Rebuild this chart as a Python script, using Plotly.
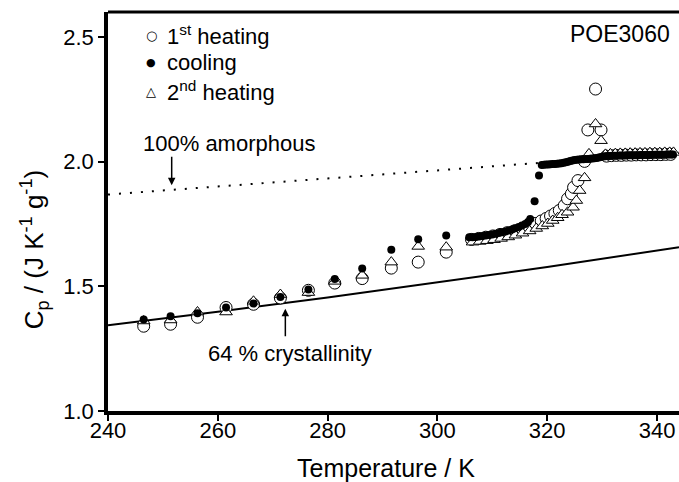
import plotly.graph_objects as go

# ---------------- data ----------------
HEAT1_T = [246.5, 251.4, 256.3, 261.5, 266.5, 271.4, 276.5, 281.3, 286.3, 291.6, 296.5, 301.6,
           306.2, 307.5, 308.8, 310.1, 311.4, 312.7, 314.0, 315.3, 316.6, 317.8, 318.9, 319.8,
           320.6, 321.4, 322.2, 323.1, 323.7, 324.4, 324.8, 325.6, 326.8, 327.4, 328.8, 329.8,
           330.8, 331.7, 332.6, 333.5, 334.4, 335.3, 336.2, 337.1, 338.0, 338.9, 339.8, 340.7,
           341.6, 342.5]
HEAT1_CP = [1.340, 1.348, 1.376, 1.415, 1.428, 1.453, 1.484, 1.513, 1.531, 1.573, 1.597, 1.637,
            1.688, 1.692, 1.697, 1.702, 1.708, 1.715, 1.722, 1.730, 1.740, 1.752, 1.762, 1.772,
            1.782, 1.792, 1.804, 1.824, 1.851, 1.871, 1.897, 1.924, 2.001, 2.127, 2.291, 2.127,
            2.022, 2.024, 2.025, 2.025, 2.026, 2.026, 2.027, 2.027, 2.027, 2.028, 2.028, 2.028,
            2.029, 2.029]

COOL_T = [246.5, 251.4, 256.3, 261.5, 266.5, 271.4, 276.5, 281.3, 286.3, 291.6, 296.5, 301.6,
          305.8, 306.4, 307.0, 307.6, 308.2, 308.8, 309.4, 310.0, 310.6, 311.2, 311.8, 312.4,
          313.0, 313.6, 314.2, 314.8, 315.4, 316.0, 316.5, 316.9, 317.7, 318.5,
          319.0, 319.4, 319.8, 320.2, 320.6, 321.0, 321.4, 321.8, 322.2, 322.6, 323.0, 323.4,
          323.8, 324.2, 324.6, 325.0, 325.4, 325.8, 326.2, 326.6, 327.0, 327.4, 327.8, 328.2,
          328.6, 329.0, 329.4, 329.8, 330.2, 330.6, 331.0, 331.4, 331.8, 332.2, 332.6, 333.0,
          333.4, 333.8, 334.2, 334.6, 335.0, 335.4, 335.8, 336.2, 336.6, 337.0, 337.4, 337.8,
          338.2, 338.6, 339.0, 339.4, 339.8, 340.2, 340.6, 341.0, 341.4, 341.8, 342.2, 342.6,
          342.9]
COOL_CP = [1.367, 1.380, 1.392, 1.415, 1.431, 1.457, 1.487, 1.529, 1.571, 1.647, 1.689, 1.704,
           1.697, 1.697, 1.698, 1.700, 1.702, 1.704, 1.706, 1.708, 1.711, 1.714, 1.717, 1.720,
           1.724, 1.728, 1.733, 1.738, 1.744, 1.750, 1.758, 1.770, 1.841, 1.944,
           1.986, 1.987, 1.988, 1.988, 1.989, 1.990, 1.990, 1.991, 1.992, 1.993, 1.995, 1.997,
           2.000, 2.003, 2.005, 2.007, 2.008, 2.009, 2.010, 2.010, 2.011, 2.011, 2.012, 2.013,
           2.014, 2.015, 2.017, 2.019, 2.021, 2.022, 2.023, 2.023, 2.024, 2.024, 2.024, 2.025,
           2.025, 2.025, 2.025, 2.026, 2.026, 2.026, 2.026, 2.026, 2.026, 2.027, 2.027, 2.027,
           2.027, 2.027, 2.027, 2.028, 2.028, 2.028, 2.028, 2.028, 2.028, 2.029, 2.029, 2.029,
           2.029]

HEAT2_T = [246.5, 251.4, 256.3, 261.5, 266.5, 271.4, 276.5, 281.3, 286.3, 291.6, 296.5, 301.6,
           306.4, 307.7, 309.0, 310.3, 311.6, 312.9, 314.2, 315.5, 316.8, 318.0, 319.1, 320.1,
           321.0, 321.9, 322.7, 323.7, 324.7, 325.3, 325.9, 326.8, 327.6, 328.8, 329.8,
           330.6, 331.5, 332.4, 333.3, 334.2, 335.1, 336.0, 336.9, 337.8, 338.7, 339.6, 340.5,
           341.4, 342.3, 343.0]
HEAT2_CP = [1.361, 1.365, 1.397, 1.397, 1.440, 1.467, 1.475, 1.520, 1.544, 1.597, 1.660, 1.657,
            1.677, 1.680, 1.683, 1.687, 1.692, 1.698, 1.705, 1.713, 1.722, 1.732, 1.742, 1.752,
            1.764, 1.775, 1.787, 1.797, 1.817, 1.844, 1.884, 1.935, 2.031, 2.151, 2.084,
            2.029, 2.031, 2.032, 2.033, 2.033, 2.034, 2.034, 2.035, 2.035, 2.036, 2.036, 2.036,
            2.037, 2.037, 2.037]

AMORPH_T = [240, 344]
AMORPH_CP = [1.868, 2.036]

CRYST_T = [240, 260, 280, 300, 320, 344]
CRYST_CP = [1.344, 1.398, 1.455, 1.515, 1.577, 1.657]

X_TICKS = [240, 260, 280, 300, 320, 340]
Y_TICKS = [1.0, 1.5, 2.0, 2.5]

FONT = "Arial, Liberation Sans, sans-serif"

fig = go.Figure()

fig.add_trace(go.Scatter(x=AMORPH_T, y=AMORPH_CP, mode="lines",
                         line=dict(color="black", width=2, dash="2px,9px"),
                         showlegend=False, hoverinfo="skip"))
fig.add_trace(go.Scatter(x=CRYST_T, y=CRYST_CP, mode="lines",
                         line=dict(color="black", width=2),
                         showlegend=False, hoverinfo="skip"))
fig.add_trace(go.Scatter(x=HEAT1_T, y=HEAT1_CP, mode="markers", name="1st heating",
                         marker=dict(symbol="circle", size=12, color="white",
                                     line=dict(color="black", width=1)),
                         showlegend=False))
fig.add_trace(go.Scatter(x=HEAT2_T, y=HEAT2_CP, mode="markers", name="2nd heating",
                         marker=dict(symbol="triangle-up", size=11, color="white",
                                     line=dict(color="black", width=1)),
                         showlegend=False))
fig.add_trace(go.Scatter(x=COOL_T, y=COOL_CP, mode="markers", name="cooling",
                         marker=dict(symbol="circle", size=8, color="black",
                                     line=dict(color="black", width=0)),
                         showlegend=False))

ann = []
# legend (text glyphs + labels)
leg_rows = [("○", "1<sup>st</sup> heating", 2.506, 13),
            ("●", "cooling", 2.398, 11),
            ("△", "2<sup>nd</sup> heating", 2.282, 13)]
for g, t, yv, gs in leg_rows:
    ann.append(dict(x=247.9, y=yv, xref="x", yref="y", text=g, showarrow=False,
                    font=dict(family="DejaVu Sans", size=gs, color="black"),
                    xanchor="center", yanchor="middle"))
    ann.append(dict(x=250.3, y=yv, xref="x", yref="y", text=t, showarrow=False,
                    font=dict(family=FONT, size=22, color="black"),
                    xanchor="left", yanchor="middle"))

ann.append(dict(x=333.3, y=2.51, xref="x", yref="y", text="POE3060", showarrow=False,
                font=dict(family=FONT, size=23, color="black"),
                xanchor="center", yanchor="middle"))
ann.append(dict(x=262.0, y=2.072, xref="x", yref="y", text="100% amorphous", showarrow=False,
                font=dict(family=FONT, size=22, color="black"),
                xanchor="center", yanchor="middle"))
ann.append(dict(x=251.6, y=1.905, xref="x", yref="y", text="", showarrow=True,
                ax=0, ay=-30, arrowhead=2, arrowsize=1, arrowwidth=1.5, arrowcolor="black"))
ann.append(dict(x=273.2, y=1.232, xref="x", yref="y", text="64 % crystallinity", showarrow=False,
                font=dict(family=FONT, size=22, color="black"),
                xanchor="center", yanchor="middle"))
ann.append(dict(x=272.3, y=1.41, xref="x", yref="y", text="", showarrow=True,
                ax=0, ay=29, arrowhead=2, arrowsize=1, arrowwidth=1.5, arrowcolor="black"))
# axis titles
ann.append(dict(x=-0.128, y=0.405, xref="paper", yref="paper",
                text="C<sub>p</sub> / (J K<sup>-1</sup> g<sup>-1</sup>)", showarrow=False,
                textangle=-90, font=dict(family=FONT, size=26, color="black"),
                xanchor="center", yanchor="middle"))
ann.append(dict(x=0.487, y=-0.143, xref="paper", yref="paper", text="Temperature / K",
                showarrow=False, font=dict(family=FONT, size=25, color="black"),
                xanchor="center", yanchor="middle"))

fig.update_layout(
    width=679, height=482,
    margin=dict(l=108, r=0, t=12, b=71),
    plot_bgcolor="white", paper_bgcolor="white",
    annotations=ann,
    shapes=[dict(type="line", xref="paper", yref="paper", x0=0, x1=1, y0=1, y1=1,
                 line=dict(color="black", width=3))],
    xaxis=dict(range=[240, 344], tickvals=X_TICKS, ticks="outside", ticklen=6, tickwidth=1.5,
               tickcolor="black", showline=True, linecolor="black", linewidth=3.5,
               showgrid=False, zeroline=False, ticklabelstandoff=-9,
               tickfont=dict(family=FONT, size=22, color="black")),
    yaxis=dict(range=[1.0, 2.6], tickvals=Y_TICKS, tickformat=".1f", ticks="outside", ticklen=6,
               tickwidth=1.5, tickcolor="black", showline=True, linecolor="black", linewidth=3.5,
               showgrid=False, zeroline=False,
               tickfont=dict(family=FONT, size=22, color="black")),
)

fig.write_html("out.html")
